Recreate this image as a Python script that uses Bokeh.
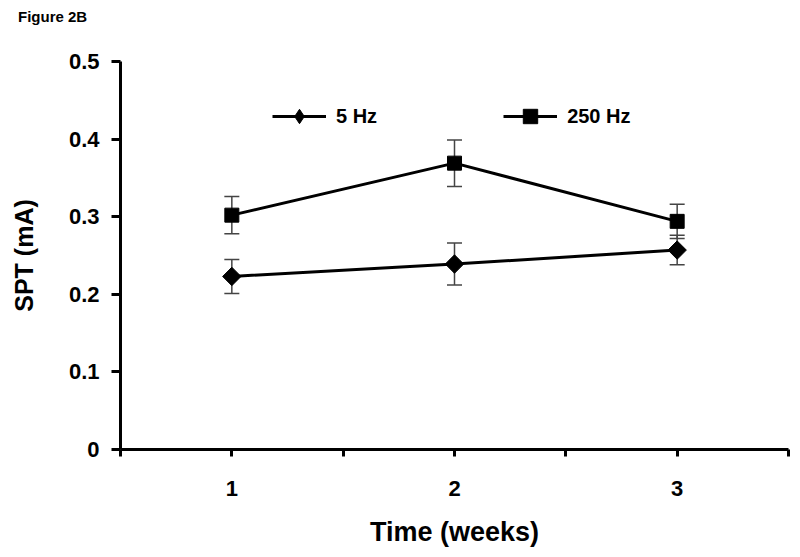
import math
from bokeh.plotting import figure
from bokeh.layouts import column
from bokeh.models import (ColumnDataSource, Whisker, TeeHead, FixedTicker, Legend, LegendItem, Range1d, Div)
from bokeh.embed import file_html
from bokeh.resources import INLINE

weeks = [1, 2, 3]
hz5_mean = [0.223, 0.239, 0.257]
hz5_err = [0.022, 0.027, 0.019]
hz250_mean = [0.302, 0.369, 0.294]
hz250_err = [0.024, 0.030, 0.022]
x_tick_labels = {1: "1", 2: "2", 3: "3"}
y_tick_labels = {0: "0", 0.1: "0.1", 0.2: "0.2", 0.3: "0.3", 0.4: "0.4", 0.5: "0.5"}

FONT = "Liberation Sans"

p = figure(frame_width=668, frame_height=388, output_backend="svg", toolbar_location=None,
           x_range=Range1d(0.5, 3.5), y_range=Range1d(0, 0.5),
           min_border_left=120, min_border_right=8, min_border_top=31, min_border_bottom=100)
p.outline_line_color = None
p.xgrid.visible = False
p.ygrid.visible = False
p.title = None

s5 = ColumnDataSource(dict(x=weeks, y=hz5_mean,
                           lo=[m - e for m, e in zip(hz5_mean, hz5_err)],
                           hi=[m + e for m, e in zip(hz5_mean, hz5_err)]))
s250 = ColumnDataSource(dict(x=weeks, y=hz250_mean,
                             lo=[m - e for m, e in zip(hz250_mean, hz250_err)],
                             hi=[m + e for m, e in zip(hz250_mean, hz250_err)]))

for src in (s5, s250):
    w = Whisker(source=src, base="x", lower="lo", upper="hi", line_color="#444444", line_width=1.5,
                upper_head=TeeHead(size=15, line_color="#444444", line_width=1.5),
                lower_head=TeeHead(size=15, line_color="#444444", line_width=1.5))
    p.add_layout(w)

l5 = p.line("x", "y", source=s5, line_color="black", line_width=3)
m5 = p.scatter("x", "y", source=s5, marker="square", angle=math.pi / 4, size=13, color="black")
# diamond glyph used for the legend swatch (drawn at size 0 in the plot itself)
m5_key = p.scatter("x", "y", source=s5, marker="diamond", size=0, color="black")
l250 = p.line("x", "y", source=s250, line_color="black", line_width=3)
m250 = p.scatter("x", "y", source=s250, marker="square", size=14, color="black")

legend = Legend(items=[LegendItem(label="5 Hz", renderers=[l5, m5_key]),
                       LegendItem(label="250 Hz", renderers=[l250, m250])],
                orientation="horizontal", location=(152, 315),
                glyph_width=54, glyph_height=36, spacing=126, label_standoff=10,
                label_text_font=FONT, label_text_font_style="bold", label_text_font_size="20px",
                label_text_color="black",
                background_fill_alpha=0, border_line_color=None, padding=0, margin=0)
p.add_layout(legend)

for ax in (p.xaxis[0], p.yaxis[0]):
    ax.axis_line_width = 3
    ax.axis_line_color = "black"
    ax.major_tick_line_width = 3
    ax.major_tick_line_color = "black"
    ax.major_tick_in = 0
    ax.minor_tick_line_color = None
    ax.major_label_text_font = FONT
    ax.major_label_text_font_style = "bold"
    ax.major_label_text_font_size = "22px"
    ax.major_label_text_color = "black"
    ax.axis_label_text_font = FONT
    ax.axis_label_text_font_style = "bold"
    ax.axis_label_text_color = "black"

p.xaxis.ticker = FixedTicker(ticks=[0.5, 1, 1.5, 2, 2.5, 3, 3.5])
p.xaxis.major_label_overrides = {0.5: "", 1.5: "", 2.5: "", 3.5: "", **{k: v for k, v in x_tick_labels.items()}}
p.xaxis.major_tick_out = 7
p.xaxis.major_label_standoff = 24
p.xaxis.axis_label = "Time (weeks)"
p.xaxis.axis_label_standoff = 18
p.xaxis.axis_label_text_font_size = "27px"

p.yaxis.ticker = FixedTicker(ticks=list(y_tick_labels.keys()))
p.yaxis.major_label_overrides = y_tick_labels
p.yaxis.major_tick_out = 9
p.yaxis.major_label_standoff = 12
p.yaxis.axis_label = "SPT (mA)"
p.yaxis.axis_label_standoff = 28
p.yaxis.axis_label_text_font_size = "25px"

header = Div(text="Figure 2B", width=200, height=30, margin=(0, 0, 0, 0),
             styles={"font-family": FONT, "font-weight": "bold", "font-size": "15px",
                     "color": "black", "padding-left": "18px", "padding-top": "6px"})

layout = column(header, p, spacing=0)

open("out.html", "w").write(file_html(layout, INLINE))
